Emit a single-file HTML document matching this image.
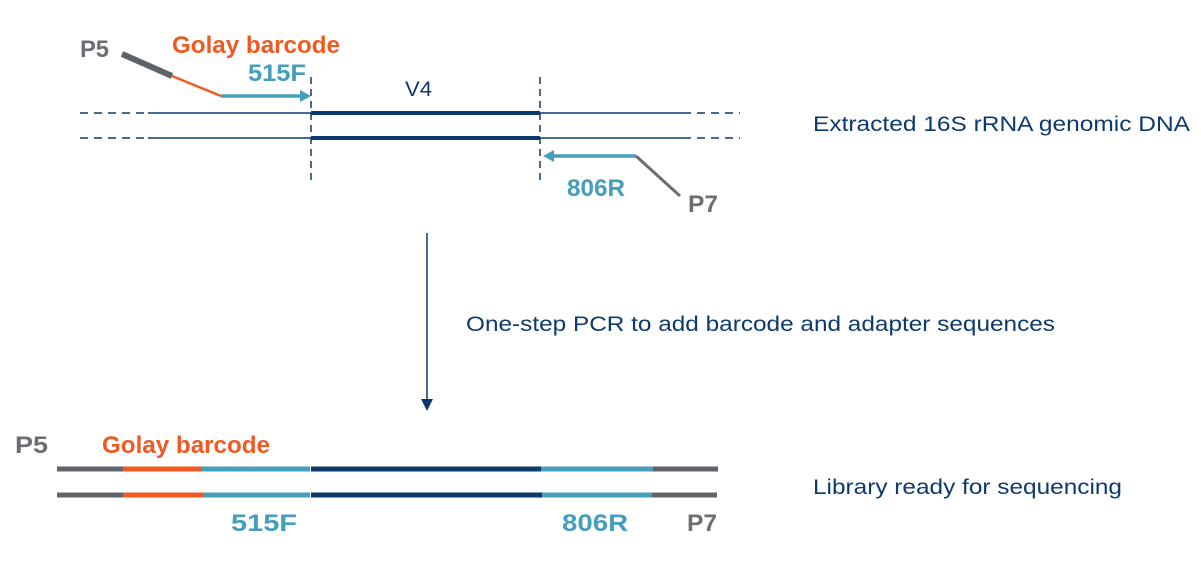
<!DOCTYPE html>
<html><head><style>html,body{margin:0;padding:0;background:#fff}svg{display:block}</style></head>
<body>
<svg width="1201" height="586" viewBox="0 0 1201 586" xmlns="http://www.w3.org/2000/svg" font-family="Liberation Sans, Arial, sans-serif">
<g stroke="#0d3a6e" stroke-width="1.5" fill="none">
<line x1="80" y1="113" x2="148" y2="113" stroke-dasharray="8,6"/>
<line x1="148" y1="113" x2="683" y2="113"/>
<line x1="683" y1="113" x2="740" y2="113" stroke-dasharray="8,6"/>
<line x1="80" y1="138" x2="148" y2="138" stroke-dasharray="8,6"/>
<line x1="148" y1="138" x2="683" y2="138"/>
<line x1="683" y1="138" x2="740" y2="138" stroke-dasharray="8,6"/>
<line x1="311" y1="77" x2="311" y2="183" stroke-dasharray="7,5"/>
<line x1="540" y1="77" x2="540" y2="183" stroke-dasharray="7,5"/>
</g>
<line x1="311" y1="113" x2="540" y2="113" stroke="#0d3a6e" stroke-width="4"/>
<line x1="311" y1="138" x2="540" y2="138" stroke="#0d3a6e" stroke-width="4"/>
<line x1="122" y1="54" x2="172" y2="76" stroke="#5f6266" stroke-width="6"/>
<line x1="172" y1="76" x2="221" y2="96" stroke="#f05a22" stroke-width="2.5"/>
<line x1="221" y1="96" x2="302" y2="96" stroke="#459ebb" stroke-width="3.5"/>
<polygon points="311,96 300,90 300,102" fill="#459ebb"/>
<line x1="636" y1="156" x2="552" y2="156" stroke="#459ebb" stroke-width="3.5"/>
<polygon points="543,156 554,150 554,162" fill="#459ebb"/>
<line x1="636" y1="156" x2="680" y2="196" stroke="#6b6e72" stroke-width="3"/>
<line x1="427" y1="233" x2="427" y2="400" stroke="#0d3a6e" stroke-width="1.5"/>
<polygon points="427,411 421,399 433,399" fill="#0d3a6e"/>
<g stroke-width="5">
<line x1="57" y1="469" x2="123" y2="469" stroke="#606368"/>
<line x1="123" y1="469" x2="202" y2="469" stroke="#f05a22"/>
<line x1="202" y1="469" x2="310" y2="469" stroke="#459ebb"/>
<line x1="311" y1="469" x2="541" y2="469" stroke="#0d3a6e"/>
<line x1="541" y1="469" x2="653" y2="469" stroke="#459ebb"/>
<line x1="653" y1="469" x2="718" y2="469" stroke="#606368"/>
<line x1="57" y1="495" x2="123" y2="495" stroke="#606368"/>
<line x1="123" y1="495" x2="203" y2="495" stroke="#f05a22"/>
<line x1="203" y1="495" x2="310" y2="495" stroke="#459ebb"/>
<line x1="311" y1="495" x2="542" y2="495" stroke="#0d3a6e"/>
<line x1="542" y1="495" x2="652" y2="495" stroke="#459ebb"/>
<line x1="652" y1="495" x2="717" y2="495" stroke="#606368"/>
</g>
<g font-weight="bold" font-size="24">
<text x="80" y="57" fill="#6b6e72" textLength="29" lengthAdjust="spacingAndGlyphs">P5</text>
<text x="172" y="53" fill="#f05a22" textLength="168" lengthAdjust="spacingAndGlyphs">Golay barcode</text>
<text x="248" y="81" fill="#459ebb" textLength="58" lengthAdjust="spacingAndGlyphs">515F</text>
<text x="567" y="196" fill="#459ebb" textLength="58" lengthAdjust="spacingAndGlyphs">806R</text>
<text x="688" y="212" fill="#6b6e72" textLength="30" lengthAdjust="spacingAndGlyphs">P7</text>
<text x="15" y="453" fill="#6b6e72" textLength="33" lengthAdjust="spacingAndGlyphs">P5</text>
<text x="102" y="453" fill="#f05a22" textLength="168" lengthAdjust="spacingAndGlyphs">Golay barcode</text>
<text x="231" y="531" fill="#459ebb" textLength="66" lengthAdjust="spacingAndGlyphs">515F</text>
<text x="562" y="531" fill="#459ebb" textLength="66" lengthAdjust="spacingAndGlyphs">806R</text>
<text x="687" y="531" fill="#6b6e72" textLength="30" lengthAdjust="spacingAndGlyphs">P7</text>
</g>
<g fill="#0d3a6e" font-size="21">
<text x="405" y="96" textLength="27" lengthAdjust="spacingAndGlyphs">V4</text>
<text x="466" y="331" textLength="589" lengthAdjust="spacingAndGlyphs">One-step PCR to add barcode and adapter sequences</text>
<text x="813" y="131" textLength="377" lengthAdjust="spacingAndGlyphs">Extracted 16S rRNA genomic DNA</text>
<text x="813" y="494" textLength="309" lengthAdjust="spacingAndGlyphs">Library ready for sequencing</text>
</g>
</svg>
</body></html>
